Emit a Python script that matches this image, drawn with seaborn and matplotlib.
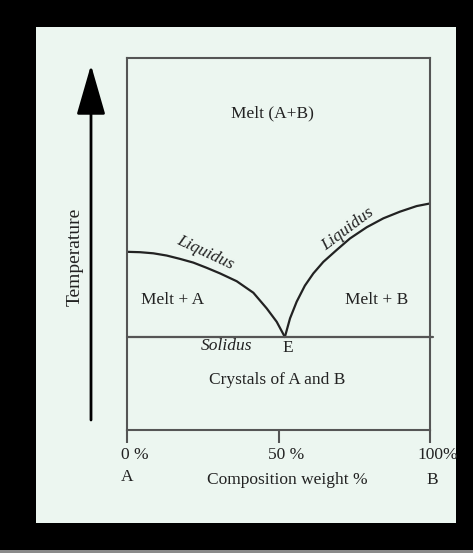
import seaborn as sns
import matplotlib
matplotlib.use("Agg")
import matplotlib.pyplot as plt
import matplotlib.transforms as mtransforms
from matplotlib.patches import Rectangle
import pandas as pd

# liquidus curves (composition %, temperature in arbitrary units)
liq_a_x = [0, 4.3, 8.7, 13.1, 17.5, 21.9, 26.3, 30.7, 36.2, 41.7, 46.1, 49.4, 52.1]
liq_a_t = [47.9, 47.8, 47.5, 46.9, 46.0, 45.0, 43.6, 42.1, 40.0, 36.9, 32.7, 29.1, 25.0]
liq_b_x = [52.1, 53.8, 56.0, 58.7, 61.5, 64.8, 69.2, 73.6, 79.1, 84.6, 90.1, 95.6, 100]
liq_b_t = [25.0, 30.0, 34.5, 38.8, 42.1, 45.2, 48.4, 51.5, 54.5, 56.9, 58.7, 60.2, 60.9]
solidus_x = [0, 101]
solidus_t = [25.0, 25.0]

tick_pos = [0, 50, 100]
tick_labels = ["0 %", "50 %", "100%"]

regions = ["Melt (A+B)", "Melt + A", "Melt + B", "Crystals of A and B"]
region_x = [47.9, 15.2, 82.5, 49.5]
region_t = [85.2, 35.0, 35.0, 13.4]

bg = "#ecf6f0"
ink = "#222222"
edge = "#555555"

sns.set_theme(style="white")
plt.rcParams["font.family"] = ["Liberation Serif", "DejaVu Serif"]

fig = plt.figure(figsize=(4.73, 5.53), dpi=100, facecolor="black")
fig.patches.append(Rectangle((0.0761, 0.0542), 0.888, 0.897, transform=fig.transFigure,
                             facecolor=bg, edgecolor="none", zorder=-10))
fig.patches.append(Rectangle((0, 0), 1, 0.005, transform=fig.transFigure,
                             facecolor="#8a8a8a", edgecolor="none", zorder=-10))

ax = fig.add_axes([0.2685, 0.2224, 0.6406, 0.6727])
ax.set_facecolor(bg)

df_a = pd.DataFrame({"x": liq_a_x, "t": liq_a_t})
df_b = pd.DataFrame({"x": liq_b_x, "t": liq_b_t})
df_s = pd.DataFrame({"x": solidus_x, "t": solidus_t})
sns.lineplot(data=df_a, x="x", y="t", sort=False, color=ink, linewidth=1.6, ax=ax)
sns.lineplot(data=df_b, x="x", y="t", sort=False, color=ink, linewidth=1.6, ax=ax)
sns.lineplot(data=df_s, x="x", y="t", sort=False, color=edge, linewidth=1.6, ax=ax, clip_on=False)

ax.set_xlim(0, 100)
ax.set_ylim(0, 100)
ax.set_xlabel("")
ax.set_ylabel("")
ax.set_yticks([])
ax.set_xticks(tick_pos, tick_labels)
ax.tick_params(axis="x", direction="out", length=9.5, width=1.5, color=edge,
               pad=3, labelsize=12.5, labelcolor=ink, bottom=True)
shift = mtransforms.ScaledTranslation(8 / 100, 0, fig.dpi_scale_trans)
for lab in ax.get_xticklabels():
    lab.set_transform(lab.get_transform() + shift)
for s in ax.spines.values():
    s.set_color(edge)
    s.set_linewidth(1.5)

for name, x, t in zip(regions, region_x, region_t):
    ax.text(x, t, name, ha="center", va="center", fontsize=12.5, color=ink)

ax.text(25.7, 47.8, "Liquidus", rotation=-25, style="italic", ha="center", va="center",
        fontsize=12.5, color=ink)
ax.text(72.9, 54.0, "Liquidus", rotation=37, style="italic", ha="center", va="center",
        fontsize=12.5, color=ink)
ax.text(33.0, 22.6, "Solidus", style="italic", ha="center", va="center", fontsize=12.5, color=ink)
ax.text(53.1, 22.0, "E", ha="center", va="center", fontsize=12.5, color=ink)

ax.text(0, -12.6, "A", ha="center", va="center", fontsize=12.5, color=ink, clip_on=False)
ax.text(100.7, -13.4, "B", ha="center", va="center", fontsize=12.5, color=ink, clip_on=False)
ax.text(52.8, -13.4, "Composition weight %", ha="center", va="center", fontsize=12.5,
        color=ink, clip_on=False)

# temperature arrow on the left
fig.text(75 / 473, 0.535, "Temperature", rotation=90, ha="center", va="center",
         fontsize=14, color=ink)
ax.annotate("", xy=(91, 553 - 65), xycoords="figure pixels",
            xytext=(91, 553 - 420), textcoords="figure pixels",
            arrowprops=dict(arrowstyle="-|>,head_length=2.6,head_width=0.75",
                            color="black", linewidth=2, shrinkA=0, shrinkB=0))

fig.savefig("out.png", dpi=100, facecolor="black")
